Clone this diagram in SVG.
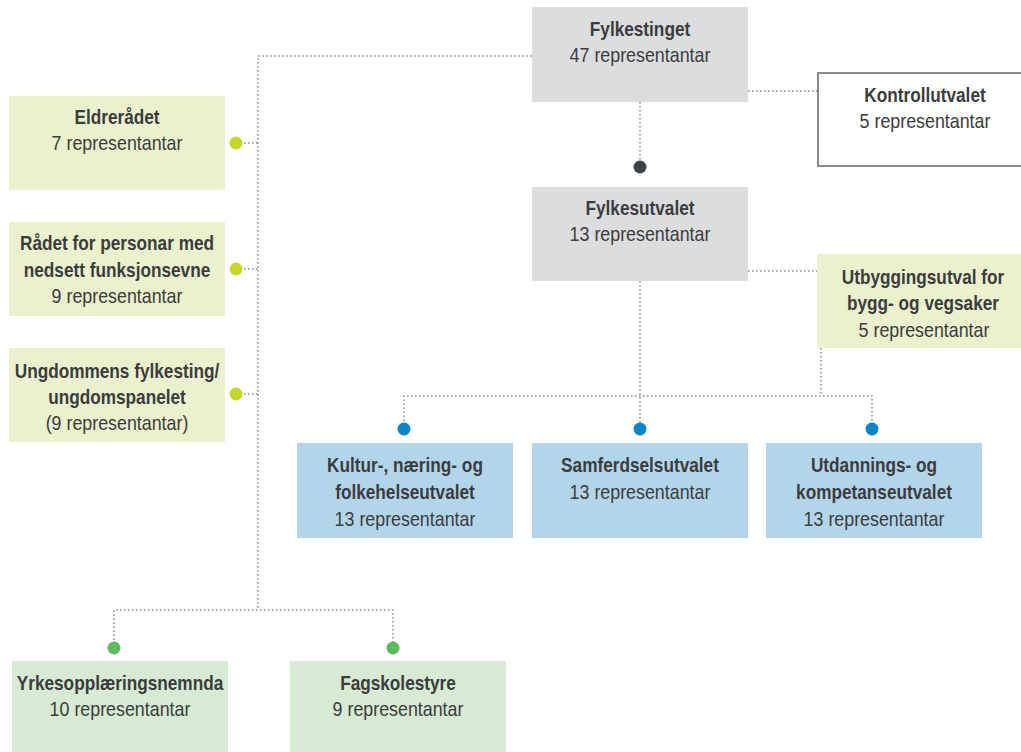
<svg xmlns="http://www.w3.org/2000/svg" width="1021" height="752" viewBox="0 0 1021 752">
<style>
text{font-family:"Liberation Sans",Arial,sans-serif;font-size:21px;fill:#3b3c3e;text-anchor:middle}
.b{font-weight:bold}
.gray{fill:#dcdddf}
.yel{fill:#ecf1cd}
.blue{fill:#b3d5ea}
.grn{fill:#d7ead3}
.con{fill:none;stroke:#8e8e8e;stroke-width:1.6;stroke-dasharray:1.6 2.4}
</style>
<rect width="1021" height="752" fill="#ffffff"/>
<g id="connectors">
<path class="con" d="M532 56H258V610"/>
<path class="con" d="M748 91H817"/>
<path class="con" d="M640 102V167"/>
<path class="con" d="M748 271H817"/>
<path class="con" d="M640 281V429"/>
<path class="con" d="M404 429V396H872V429"/>
<path class="con" d="M821 348V396"/>
<path class="con" d="M236 143H258M236 269H258M236 394H258"/>
<path class="con" d="M114 648V610H393V648"/>
<circle cx="640" cy="167" r="6.5" fill="#3d4148"/>
<circle cx="404" cy="429" r="6.5" fill="#0a84c6"/>
<circle cx="640" cy="429" r="6.5" fill="#0a84c6"/>
<circle cx="872" cy="429" r="6.5" fill="#0a84c6"/>
<circle cx="236" cy="143" r="6.5" fill="#c6d62b"/>
<circle cx="236" cy="269" r="6.5" fill="#c6d62b"/>
<circle cx="236" cy="394" r="6.5" fill="#c6d62b"/>
<circle cx="114" cy="648" r="6.5" fill="#5dbb5b"/>
<circle cx="393" cy="648" r="6.5" fill="#5dbb5b"/>
</g>
<g id="fylkestinget"><rect class="gray" x="532" y="7" width="216" height="95"/><text transform="translate(640 36) scale(0.82 1)" class="b">Fylkestinget</text><text transform="translate(640 62) scale(0.85 1)">47 representantar</text></g>
<g id="kontrollutvalet"><rect x="818" y="73" width="204" height="93" fill="#fff" stroke="#8a8a8a" stroke-width="2"/><text transform="translate(925 102) scale(0.82 1)" class="b">Kontrollutvalet</text><text transform="translate(925 128) scale(0.85 1)">5 representantar</text></g>
<g id="fylkesutvalet"><rect class="gray" x="532" y="187" width="216" height="94"/><text transform="translate(640 215) scale(0.82 1)" class="b">Fylkesutvalet</text><text transform="translate(640 241) scale(0.85 1)">13 representantar</text></g>
<g id="utbygging"><rect class="yel" x="817" y="254" width="204" height="94"/><text transform="translate(923 284) scale(0.82 1)" class="b">Utbyggingsutval for</text><text transform="translate(923 310) scale(0.82 1)" class="b">bygg- og vegsaker</text><text transform="translate(924 337) scale(0.85 1)">5 representantar</text></g>
<g id="eldreradet"><rect class="yel" x="9" y="96" width="216" height="94"/><text transform="translate(117 124) scale(0.82 1)" class="b">Eldrerådet</text><text transform="translate(117 150) scale(0.85 1)">7 representantar</text></g>
<g id="radet"><rect class="yel" x="9" y="222" width="216" height="94"/><text transform="translate(117 250) scale(0.82 1)" class="b">Rådet for personar med</text><text transform="translate(117 277) scale(0.82 1)" class="b">nedsett funksjonsevne</text><text transform="translate(117 303) scale(0.85 1)">9 representantar</text></g>
<g id="ungdom"><rect class="yel" x="9" y="348" width="216" height="94"/><text transform="translate(117 378) scale(0.82 1)" class="b">Ungdommens fylkesting/</text><text transform="translate(117 404) scale(0.82 1)" class="b">ungdomspanelet</text><text transform="translate(117 430) scale(0.85 1)">(9 representantar)</text></g>
<g id="kultur"><rect class="blue" x="297" y="443" width="216" height="95"/><text transform="translate(405 472) scale(0.82 1)" class="b">Kultur-, næring- og</text><text transform="translate(405 499) scale(0.82 1)" class="b">folkehelseutvalet</text><text transform="translate(405 526) scale(0.85 1)">13 representantar</text></g>
<g id="samferdsel"><rect class="blue" x="532" y="443" width="216" height="95"/><text transform="translate(640 472) scale(0.82 1)" class="b">Samferdselsutvalet</text><text transform="translate(640 499) scale(0.85 1)">13 representantar</text></g>
<g id="utdanning"><rect class="blue" x="766" y="443" width="216" height="95"/><text transform="translate(874 472) scale(0.82 1)" class="b">Utdannings- og</text><text transform="translate(874 499) scale(0.82 1)" class="b">kompetanseutvalet</text><text transform="translate(874 526) scale(0.85 1)">13 representantar</text></g>
<g id="yrkes"><rect class="grn" x="12" y="661" width="216" height="91"/><text transform="translate(120 690) scale(0.82 1)" class="b">Yrkesopplæringsnemnda</text><text transform="translate(120 716) scale(0.85 1)">10 representantar</text></g>
<g id="fagskole"><rect class="grn" x="290" y="661" width="216" height="91"/><text transform="translate(398 690) scale(0.82 1)" class="b">Fagskolestyre</text><text transform="translate(398 716) scale(0.85 1)">9 representantar</text></g>
</svg>
